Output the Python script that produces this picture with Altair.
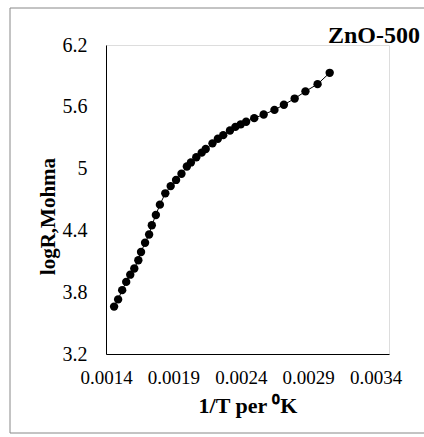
import altair as alt
import pandas as pd

inv_t = [0.00146, 0.00149, 0.00152, 0.00155, 0.00158, 0.00161, 0.00164, 0.00166, 0.00169, 0.00172,
         0.00174, 0.00177, 0.00180, 0.00184, 0.00188, 0.00192, 0.00196, 0.00200, 0.00203, 0.00207,
         0.00211, 0.00214, 0.00219, 0.00223, 0.00227, 0.00232, 0.00236, 0.00240, 0.00244, 0.00250,
         0.00257, 0.00265, 0.00272, 0.00280, 0.00288, 0.00297, 0.00306]
log_r = [3.66, 3.73, 3.82, 3.90, 3.97, 4.03, 4.11, 4.19, 4.28, 4.36,
         4.45, 4.55, 4.65, 4.76, 4.83, 4.89, 4.95, 5.02, 5.06, 5.11,
         5.155, 5.19, 5.245, 5.29, 5.325, 5.37, 5.405, 5.43, 5.455, 5.49,
         5.525, 5.57, 5.62, 5.68, 5.75, 5.82, 5.93]
x_ticks = [0.0014, 0.0019, 0.0024, 0.0029, 0.0034]
y_ticks = [3.2, 3.8, 4.4, 5.0, 5.6, 6.2]

df = pd.DataFrame({"x": inv_t, "y": log_r})
FONT = "Liberation Serif"

xenc = alt.X("x:Q", scale=alt.Scale(domain=[0.0014, 0.0035], nice=False, zero=False),
             axis=alt.Axis(values=x_ticks, format=".4f", title="1/T per ⁰K", grid=False,
                           ticks=False, labelPadding=14, labelFontSize=19, labelFont=FONT,
                           labelColor="black", domainColor="black", labelFlush=False,
                           titleFont=FONT, titleFontSize=22, titleFontWeight="bold",
                           titleColor="black", titlePadding=8))
yenc = alt.Y("y:Q", scale=alt.Scale(domain=[3.2, 6.2], nice=False, zero=False),
             axis=alt.Axis(values=y_ticks, format=".1~f", title="logR,Mohma", grid=False,
                           ticks=False, labelPadding=19, labelFontSize=20, labelFont=FONT,
                           labelColor="black", domainColor="black", labelFlush=False,
                           titleFont=FONT, titleFontSize=21, titleFontWeight="bold",
                           titleColor="black", titleX=-58, titleY=171, titleAlign="center",
                           titleBaseline="middle", titleAngle=-90))

line = alt.Chart(df).mark_line(color="black", strokeWidth=1).encode(x=xenc, y=yenc)
pts = alt.Chart(df).mark_circle(color="black", opacity=1, size=70).encode(x="x:Q", y="y:Q")

frame = alt.Chart(pd.DataFrame({"a": [0]})).mark_rect(
    fill=None, stroke="#888888", strokeWidth=1
).encode(x=alt.value(-96), x2=alt.value(330), y=alt.value(-37), y2=alt.value(388))

chart = alt.layer(frame, line, pts).properties(
    width=283, height=309,
    title=alt.TitleParams("ZnO-500", anchor="end", frame="group", font=FONT, fontSize=24,
                          fontWeight="bold", color="black", dx=31, dy=59, offset=0,
                          baseline="alphabetic"),
    autosize=alt.AutoSizeParams(type="none"),
    padding={"left": 106, "top": 45, "right": 35, "bottom": 83},
).configure_view(stroke=None).configure(background="white")

chart.save("out.html", embed_options={"renderer": "svg", "actions": False})
